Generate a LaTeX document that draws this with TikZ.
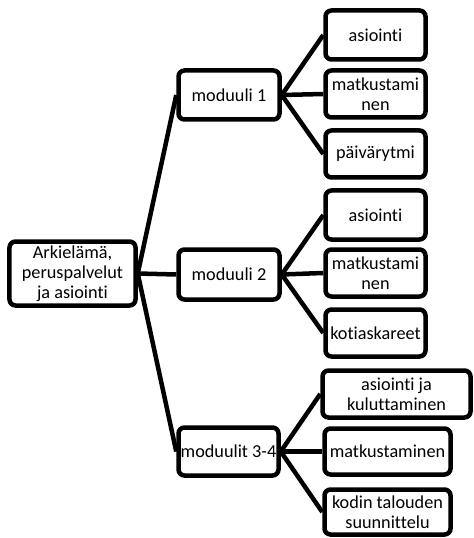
\documentclass[tikz,border=0pt]{standalone}
\usepackage{fontspec}
\setmainfont{Carlito}[Ligatures={NoCommon}]
\usetikzlibrary{backgrounds}
\tikzset{
  box/.style={draw=black, fill=white, line width=4.5bp, rounded corners=6bp,
    inner sep=0pt, align=center, font=\fontsize{18.3}{20}\selectfont},
  conn/.style={draw=black, line width=4.5bp}
}
\begin{document}
\begin{tikzpicture}[x=1bp, y=-1bp]
\useasboundingbox (0,0) rectangle (474,538);
% root
\node[box, minimum width=126bp, minimum height=64bp] (root) at (72.5,273.5) {Arkielämä,\\peruspalvelut\\ja asiointi};
% level 1
\node[box, minimum width=101bp, minimum height=49bp] (m1) at (229,95) {moduuli 1};
\node[box, minimum width=101bp, minimum height=50bp] (m2) at (229,274.5) {moduuli 2};
\node[box, minimum width=100bp, minimum height=48bp] (m3) at (228.5,451.5) {moduulit 3-4};
% level 2 (moduuli 1)
\node[box, minimum width=100bp, minimum height=49bp] (a1) at (375.5,35) {asiointi};
\node[box, minimum width=100bp, minimum height=47bp] (a2) at (375.5,94) {matkustami\\nen};
\node[box, minimum width=100bp, minimum height=47bp] (a3) at (375.5,154) {päivärytmi};
% level 2 (moduuli 2)
\node[box, minimum width=100bp, minimum height=49bp] (b1) at (375.5,215) {asiointi};
\node[box, minimum width=100bp, minimum height=47bp] (b2) at (375.5,273) {matkustami\\nen};
\node[box, minimum width=100bp, minimum height=47bp] (b3) at (375.5,333) {kotiaskareet};
% level 2 (moduulit 3-4)
\node[box, minimum width=148bp, minimum height=47bp] (c1) at (396.5,394) {asiointi ja\\kuluttaminen};
\node[box, minimum width=126bp, minimum height=46bp] (c2) at (387.5,451.5) {matkustaminen};
\node[box, minimum width=126bp, minimum height=45bp] (c3) at (387.5,512) {kodin talouden\\suunnittelu};
\begin{scope}[on background layer]
\draw[conn] (root.east) -- (m1.west);
\draw[conn] (root.east) -- (m2.west);
\draw[conn] (root.east) -- (m3.west);
\draw[conn] (m1.east) -- (a1.west);
\draw[conn] (m1.east) -- (a2.west);
\draw[conn] (m1.east) -- (a3.west);
\draw[conn] (m2.east) -- (b1.west);
\draw[conn] (m2.east) -- (b2.west);
\draw[conn] (m2.east) -- (b3.west);
\draw[conn] (m3.east) -- (c1.west);
\draw[conn] (m3.east) -- (c2.west);
\draw[conn] (m3.east) -- (c3.west);
\end{scope}
\end{tikzpicture}
\end{document}
